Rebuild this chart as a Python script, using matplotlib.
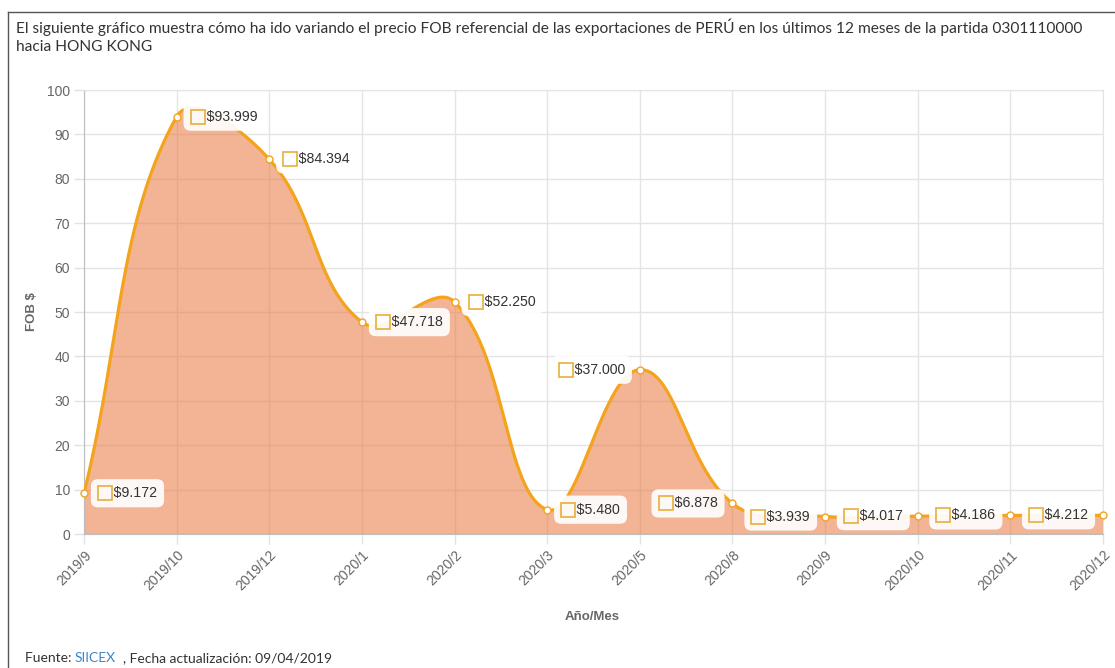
import numpy as np
import matplotlib
matplotlib.use('Agg')
import matplotlib.pyplot as plt
from matplotlib.lines import Line2D

# precio FOB referencial por mes (US$)
meses = ['2019/9', '2019/10', '2019/12', '2020/1', '2020/2', '2020/3',
         '2020/5', '2020/8', '2020/9', '2020/10', '2020/11', '2020/12']
fob = [9.172, 93.999, 84.394, 47.718, 52.250, 5.480,
       37.000, 6.878, 3.939, 4.017, 4.186, 4.212]

titulo = ('El siguiente gráfico muestra cómo ha ido variando el precio FOB referencial de las '
          'exportaciones de PERÚ en los últimos 12 meses de la partida 0301110000\nhacia HONG KONG')

W, H = 1115, 668
X0, X1, Y0, Y1 = 84, 1103, 534, 90   # area del grafico en pixeles

LINEA = '#f4a31c'
RELLENO = (0.91, 0.48, 0.25, 0.56)
ICONO = '#e9b54a'
GRIS = '#666666'


def curva_spline(xs, ys, sx, sy, tension=0.4, n=60, ymin=0, ymax=100):
    """Curva cubica tipo Chart.js (splineCurve) en espacio de pixeles."""
    px = np.asarray(xs, float) * sx
    py = np.asarray(ys, float) * sy
    k = len(px)
    cp_prev, cp_next = [], []
    for i in range(k):
        a = max(i - 1, 0)
        b = min(i + 1, k - 1)
        d01 = np.hypot(px[i] - px[a], py[i] - py[a])
        d12 = np.hypot(px[b] - px[i], py[b] - py[i])
        tot = d01 + d12
        s01 = d01 / tot if tot else 0
        s12 = d12 / tot if tot else 0
        fa, fb = tension * s01, tension * s12
        dx, dy = px[b] - px[a], py[b] - py[a]
        cp_prev.append((px[i] - fa * dx, np.clip(py[i] - fa * dy, ymin * sy, ymax * sy)))
        cp_next.append((px[i] + fb * dx, np.clip(py[i] + fb * dy, ymin * sy, ymax * sy)))
    t = np.linspace(0, 1, n)[:, None]
    seg = []
    for i in range(k - 1):
        p0 = np.array([px[i], py[i]])
        p1 = np.array(cp_next[i])
        p2 = np.array(cp_prev[i + 1])
        p3 = np.array([px[i + 1], py[i + 1]])
        b = ((1 - t) ** 3) * p0 + 3 * ((1 - t) ** 2) * t * p1 + 3 * (1 - t) * t ** 2 * p2 + t ** 3 * p3
        seg.append(b if i == 0 else b[1:])
    b = np.vstack(seg)
    return b[:, 0] / sx, b[:, 1] / sy


fig = plt.figure(figsize=(W / 100, H / 100), dpi=100)
ax = fig.add_axes([X0 / W, (H - Y0) / H, (X1 - X0) / W, (Y0 - Y1) / H])

x = np.arange(len(meses))
sx = (X1 - X0) / (len(meses) - 1)
sy = (Y0 - Y1) / 100
cx, cy = curva_spline(x, fob, sx, sy)

ax.fill_between(cx, 0, cy, color=RELLENO, lw=0, zorder=2)
ax.plot(cx, cy, color=LINEA, lw=2.3, zorder=3, solid_capstyle='round')
ax.plot(x, fob, 'o', ms=5, mfc='white', mec=LINEA, mew=1, zorder=9, clip_on=False)

ax.set_xlim(0, len(meses) - 1)
ax.set_ylim(0, 100)
ax.set_yticks(range(0, 101, 10))
ax.set_xticks(x)
ax.set_xticklabels(meses, rotation=45, ha='right', va='top', rotation_mode='anchor')
ax.tick_params(axis='both', length=7, width=1, color='#e2e2e2', labelcolor=GRIS,
               labelsize=10, pad=3)
for lab in ax.get_xticklabels() + ax.get_yticklabels():
    lab.set_family('Liberation Sans')
ax.grid(True, color='#e4e4e4', lw=1, zorder=0)
ax.set_axisbelow(True)
for lado in ['top', 'right']:
    ax.spines[lado].set_color('#e4e4e4')
for lado in ['left', 'bottom']:
    ax.spines[lado].set_color('#bdbdbd')

# etiquetas de valor con icono
etiquetas = []
for i, v in enumerate(fob):
    derecha = i < 6
    t = ax.annotate('    ' + f'${v:.3f}', (i, v),
                    xytext=(14 if derecha else -15, 0), textcoords='offset pixels',
                    ha='left' if derecha else 'right', va='center',
                    fontsize=10.2, color='#333333', family='Liberation Sans',
                    bbox=dict(boxstyle='round,pad=0.5', fc='white', ec='none', alpha=0.92),
                    zorder=6, annotation_clip=False)
    etiquetas.append(t)

fig.canvas.draw()
rend = fig.canvas.get_renderer()
inv = ax.transData.inverted()
for t in etiquetas:
    bb = t.get_window_extent(rend)
    xd, yd = inv.transform((bb.x0 + 7, (bb.y0 + bb.y1) / 2))
    ax.plot(xd, yd, 's', ms=10, mfc='none', mec=ICONO, mew=1.3, zorder=7, clip_on=False)

fig.text(32 / W, 1 - 312 / H, 'FOB $', rotation=90, ha='center', va='center',
         fontsize=9.5, fontweight='bold', color=GRIS, family='Liberation Sans')
fig.text(592 / W, 1 - 617 / H, 'Año/Mes', ha='center', va='center',
         fontsize=9.5, fontweight='bold', color=GRIS, family='Liberation Sans')

fig.text(16 / W, 1 - 18 / H, titulo, ha='left', va='top', fontsize=11.2,
         color='#333333', family='Lato', linespacing=1.4)

# pie de pagina con la fuente
partes = [('Fuente: ', '#333333'), ('SIICEX', '#3d87c9'),
          ('  , Fecha actualización: 09/04/2019', '#333333')]
xp = 25
for txt, col in partes:
    tt = fig.text(xp / W, 1 - 658 / H, txt, ha='left', va='center', fontsize=10,
                  color=col, family='Lato')
    xp += tt.get_window_extent(rend).width

# marco del contenedor
fig.add_artist(Line2D([8 / W, 8 / W], [0, 1 - 12 / H], color='#555555', lw=1))
fig.add_artist(Line2D([8 / W, 1], [1 - 12 / H, 1 - 12 / H], color='#555555', lw=1))

fig.savefig('out.png', dpi=100)
